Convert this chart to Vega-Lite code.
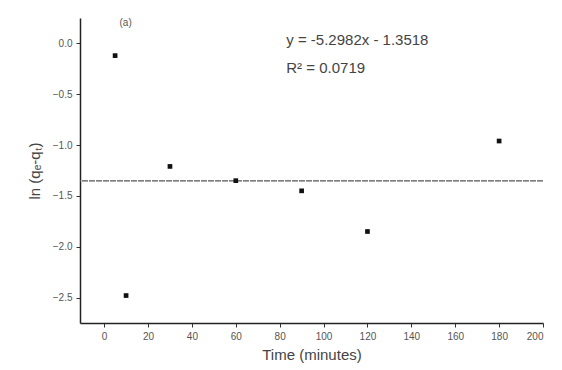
{
  "$schema": "https://vega.github.io/schema/vega-lite/v6.json",
  "width": 463,
  "height": 305,
  "autosize": "none",
  "padding": {"left": 80, "top": 18, "right": 19, "bottom": 47},
  "background": "white",
  "config": {
    "view": {"stroke": null},
    "font": "Liberation Sans",
    "axis": {"domainColor": "#222", "domainWidth": 1.5, "tickColor": "#333", "labelColor": "#555", "titleColor": "#444", "grid": false, "labelFont": "Liberation Sans", "titleFont": "Liberation Sans", "titleFontWeight": "normal"}
  },
  "datasets": {
    "pts": [
      {"time": 5, "lnq": -0.12},
      {"time": 10, "lnq": -2.48},
      {"time": 30, "lnq": -1.21},
      {"time": 60, "lnq": -1.35},
      {"time": 90, "lnq": -1.45},
      {"time": 120, "lnq": -1.85},
      {"time": 180, "lnq": -0.96}
    ],
    "fit": [{"lnq": -1.3518}],
    "notes": [
      {"time": 83, "lnq": 0.03, "label": "y = -5.2982x - 1.3518"},
      {"time": 83, "lnq": -0.245, "label": "R² = 0.0719"}
    ],
    "tag": [{"time": 7, "lnq": 0.2, "label": "(a)"}]
  },
  "layer": [
    {
      "data": {"name": "fit"},
      "mark": {"type": "rule", "color": "#555", "strokeWidth": 1.2, "strokeDash": [6, 1]},
      "encoding": {"y": {"field": "lnq", "type": "quantitative", "scale": {"domain": [-2.75, 0.25]}}}
    },
    {
      "data": {"name": "pts"},
      "mark": {"type": "point", "shape": "square", "filled": true, "color": "#111", "size": 22, "opacity": 1},
      "encoding": {
        "x": {
          "field": "time", "type": "quantitative",
          "scale": {"domain": [-11, 200], "nice": false, "zero": false},
          "axis": {"values": [0,10,20,30,40,50,60,70,80,90,100,110,120,130,140,150,160,170,180,190,200], "labelExpr": "datum.value % 20 == 0 ? datum.label : ''", "tickSize": 4, "labelFontSize": 10, "labelPadding": 4, "title": "Time (minutes)", "titleFontSize": 15, "titlePadding": 6}
        },
        "y": {
          "field": "lnq", "type": "quantitative",
          "scale": {"domain": [-2.75, 0.25], "nice": false, "zero": false},
          "axis": {"values": [0, -0.25, -0.5, -0.75, -1, -1.25, -1.5, -1.75, -2, -2.25, -2.5], "labelExpr": "(datum.value * 4) % 2 == 0 ? format(datum.value, '.1f') : ''", "tickSize": 4, "labelFontSize": 10, "labelPadding": 4, "title": "ln (qₑ-qₜ)", "titleFontSize": 15, "titlePadding": 10}
        }
      }
    },
    {
      "data": {"name": "notes"},
      "mark": {"type": "text", "align": "left", "baseline": "middle", "fontSize": 15, "color": "#444"},
      "encoding": {
        "x": {"field": "time", "type": "quantitative"},
        "y": {"field": "lnq", "type": "quantitative"},
        "text": {"field": "label"}
      }
    },
    {
      "data": {"name": "tag"},
      "mark": {"type": "text", "align": "left", "baseline": "middle", "fontSize": 10, "color": "#555"},
      "encoding": {
        "x": {"field": "time", "type": "quantitative"},
        "y": {"field": "lnq", "type": "quantitative"},
        "text": {"field": "label"}
      }
    }
  ]
}
